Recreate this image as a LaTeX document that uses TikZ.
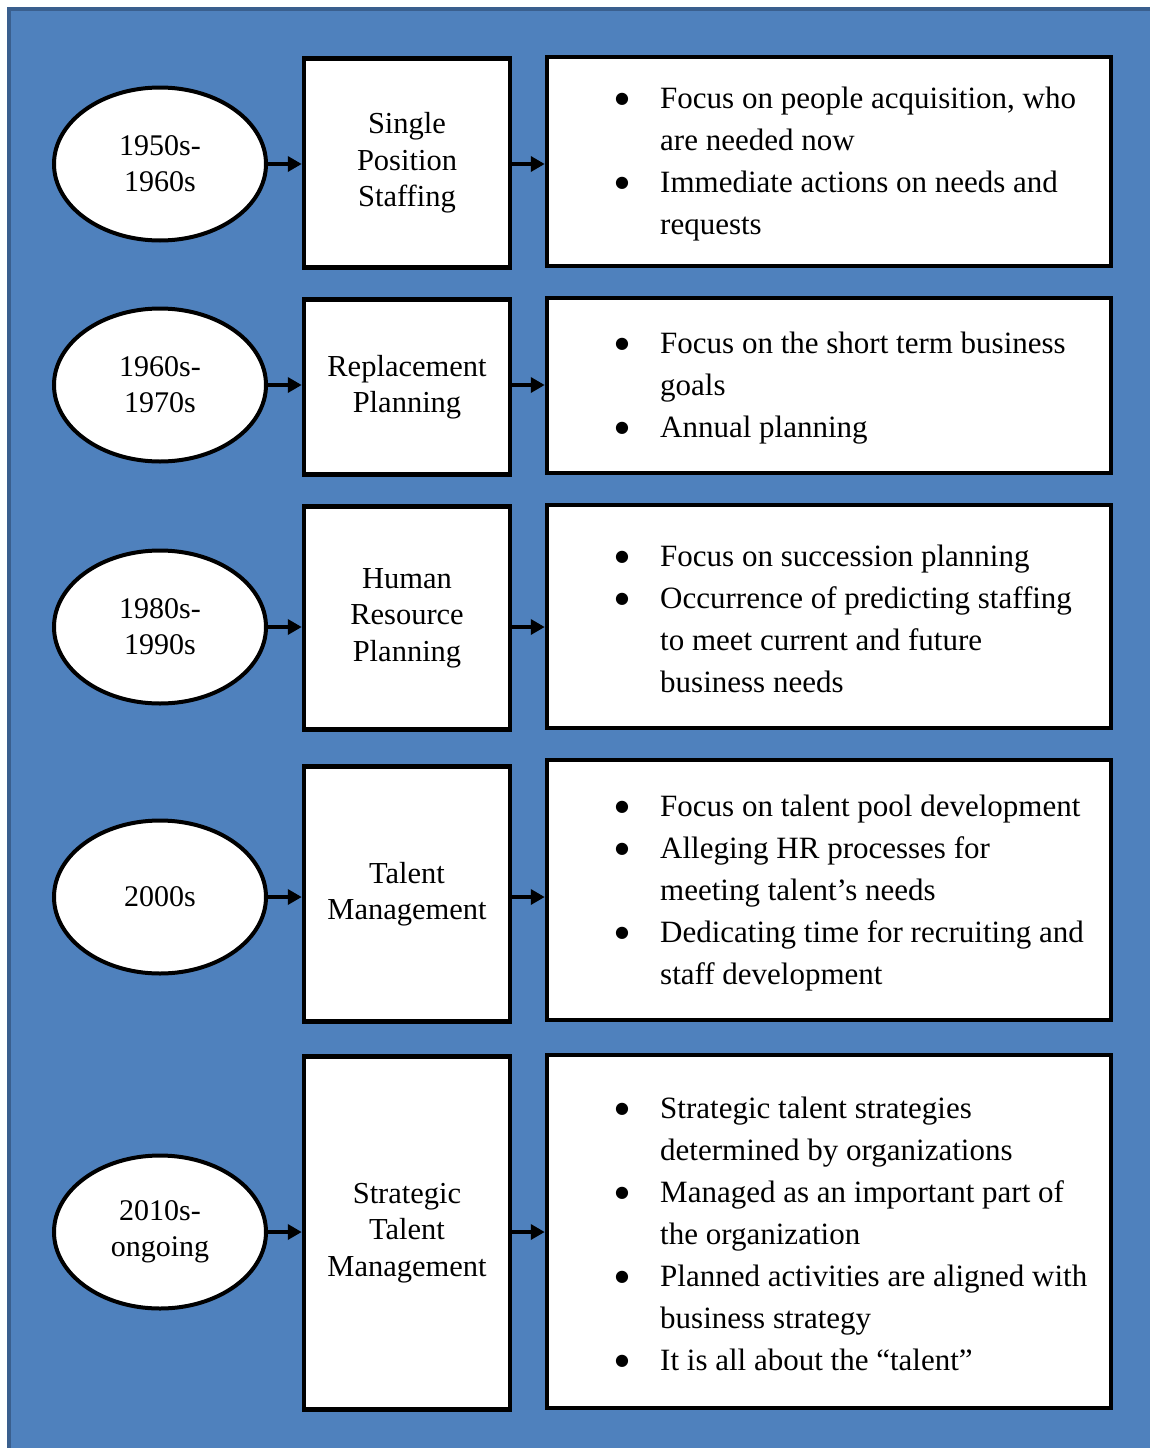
\documentclass[tikz,border=0pt]{standalone}
\usepackage{fontspec}
\setmainfont{Liberation Serif}
\newfontfamily\symfont{DejaVu Sans}
\usetikzlibrary{arrows.meta,shapes.geometric}
\definecolor{panelblue}{HTML}{4F81BD}
\definecolor{paneledge}{HTML}{3A5F8E}
% bullet column and matching indent for continuation lines
\newcommand{\bul}{\makebox[46pt][l]{\hspace{1pt}\raisebox{5pt}{\symfont\fontsize{16}{16}\selectfont ●}}}
\newcommand{\ind}{\hspace*{46pt}}

\begin{document}
\begin{tikzpicture}[x=1pt,y=-1pt,
  era/.style={ellipse,draw,fill=white,line width=4pt,minimum width=212pt,
    minimum height=153pt,inner sep=0pt,align=center,
    font=\fontsize{30}{36}\selectfont},
  stage/.style={rectangle,draw,fill=white,line width=4.5pt,minimum width=206pt,
    inner sep=0pt,align=center,font=\fontsize{30.5}{36.5}\selectfont},
  detail/.style={rectangle,draw,fill=white,line width=4.5pt,minimum width=564pt,
    inner sep=0pt},
  items/.style={anchor=west,inner sep=0pt,align=left,
    font=\fontsize{31}{42}\selectfont},
  link/.style={line width=4pt,-{Triangle[length=14pt,width=15pt]}}]

\useasboundingbox (0,0) rectangle (1150,1448);
% panel background
\fill[panelblue] (7,7) rectangle (1160,1460);
\draw[paneledge,line width=4pt] (9,1460) -- (9,9) -- (1160,9);

% row 1
\node[era] (e1) at (160,164) {1950s-\\1960s};
\node[stage,minimum height=209pt] (s1) at (407,163) {Single\\Position\\Staffing};
\node[detail,minimum height=209pt] (d1) at (829,161.5) {};
\node[items] (t1) at (614,164) {\bul Focus on people acquisition, who\\
  \ind are needed now\\
  \bul Immediate actions on needs and\\
  \ind requests};

% row 2
\node[era] (e2) at (160,385) {1960s-\\1970s};
\node[stage,minimum height=175pt] (s2) at (407,387) {Replacement\\Planning};
\node[detail,minimum height=175pt] (d2) at (829,385.5) {};
\node[items] (t2) at (614,388) {\bul Focus on the short term business\\
  \ind goals\\
  \bul Annual planning};

% row 3
\node[era] (e3) at (160,627) {1980s-\\1990s};
\node[stage,minimum height=223pt] (s3) at (407,618) {Human\\Resource\\Planning};
\node[detail,minimum height=223pt] (d3) at (829,616.5) {};
\node[items] (t3) at (614,619) {\bul Focus on succession planning\\
  \bul Occurrence of predicting staffing\\
  \ind to meet current and future\\
  \ind business needs};

% row 4
\node[era] (e4) at (160,897) {2000s};
\node[stage,minimum height=255pt] (s4) at (407,894) {Talent\\Management};
\node[detail,minimum height=260pt] (d4) at (829,890) {};
\node[items] (t4) at (614,893) {\bul Focus on talent pool development\\
  \bul Alleging HR processes for\\
  \ind meeting talent’s needs\\
  \bul Dedicating time for recruiting and\\
  \ind staff development};

% row 5
\node[era] (e5) at (160,1232) {2010s-\\ongoing};
\node[stage,minimum height=353pt] (s5) at (407,1233) {Strategic\\Talent\\Management};
\node[detail,minimum height=353pt] (d5) at (829,1231.5) {};
\node[items] (t5) at (614,1234) {\bul Strategic talent strategies\\
  \ind determined by organizations\\
  \bul Managed as an important part of\\
  \ind the organization\\
  \bul Planned activities are aligned with\\
  \ind business strategy\\
  \bul It is all about the “talent”};

% connectors
\foreach \i in {1,...,5}{
  \draw[link] (e\i.east) -- (e\i.east -| s\i.west);
  \draw[link] (e\i.center -| s\i.east) -- (e\i.center -| d\i.west);
}
\end{tikzpicture}
\end{document}
